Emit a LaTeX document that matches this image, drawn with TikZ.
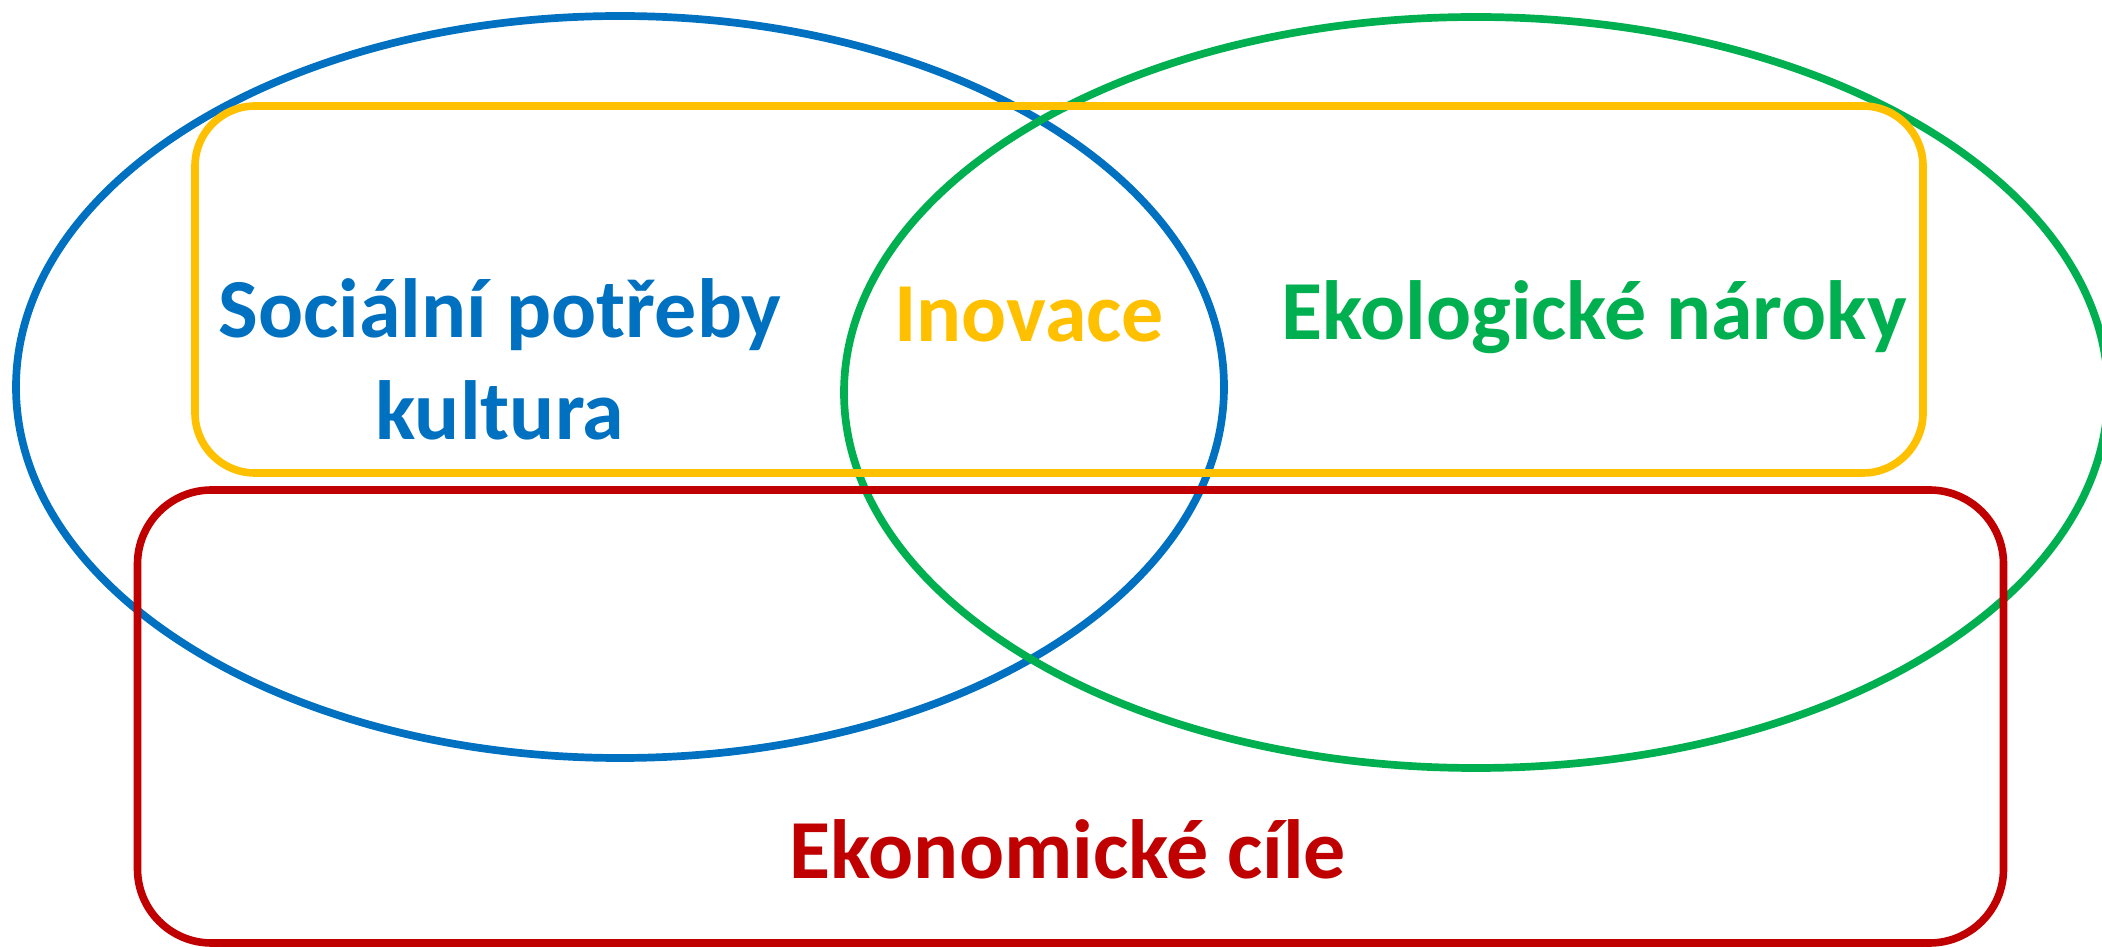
\documentclass[tikz,border=0pt]{standalone}
\usepackage{fontspec}
\setmainfont{Carlito}
\usetikzlibrary{shapes.geometric}
\definecolor{cblue}{HTML}{0070C0}
\definecolor{cgreen}{HTML}{00B050}
\definecolor{cyellow}{HTML}{FFC000}
\definecolor{cred}{HTML}{C00000}
\tikzset{
  ring/.style={draw, ellipse, inner sep=0pt, line width=7.7pt},
  band/.style={draw, rectangle, inner sep=0pt, line width=7.6pt},
  lbl/.style={font=\bfseries\fontsize{84}{102}\selectfont, inner sep=0pt, anchor=base, align=center}
}
\begin{document}
\begin{tikzpicture}[x=1pt,y=1pt]
\useasboundingbox (0,0) rectangle (2102,946);
% ellipses
\node[ring, cblue, minimum width=1208pt, minimum height=742pt] (soc) at (620,559) {};
\node[ring, cgreen, minimum width=1264pt, minimum height=751pt] (eko) at (1476,553.5) {};
% rounded boxes
\node[band, cyellow, rounded corners=60pt, minimum width=1728pt, minimum height=367pt] (ino) at (1059,656.5) {};
\node[band, cred, rounded corners=74pt, minimum width=1866pt, minimum height=453pt] (ekon) at (1070.5,229.5) {};
% labels
\node[lbl, text=cblue] (tsoc) at (500,506) {Sociální potřeby\\kultura};
\node[lbl, text=cyellow] (tino) at (1029,604) {Inovace};
\node[lbl, text=cgreen] (teko) at (1594,606) {Ekologické nároky};
\node[lbl, text=cred] (tekon) at (1068,68) {Ekonomické cíle};
\end{tikzpicture}
\end{document}
